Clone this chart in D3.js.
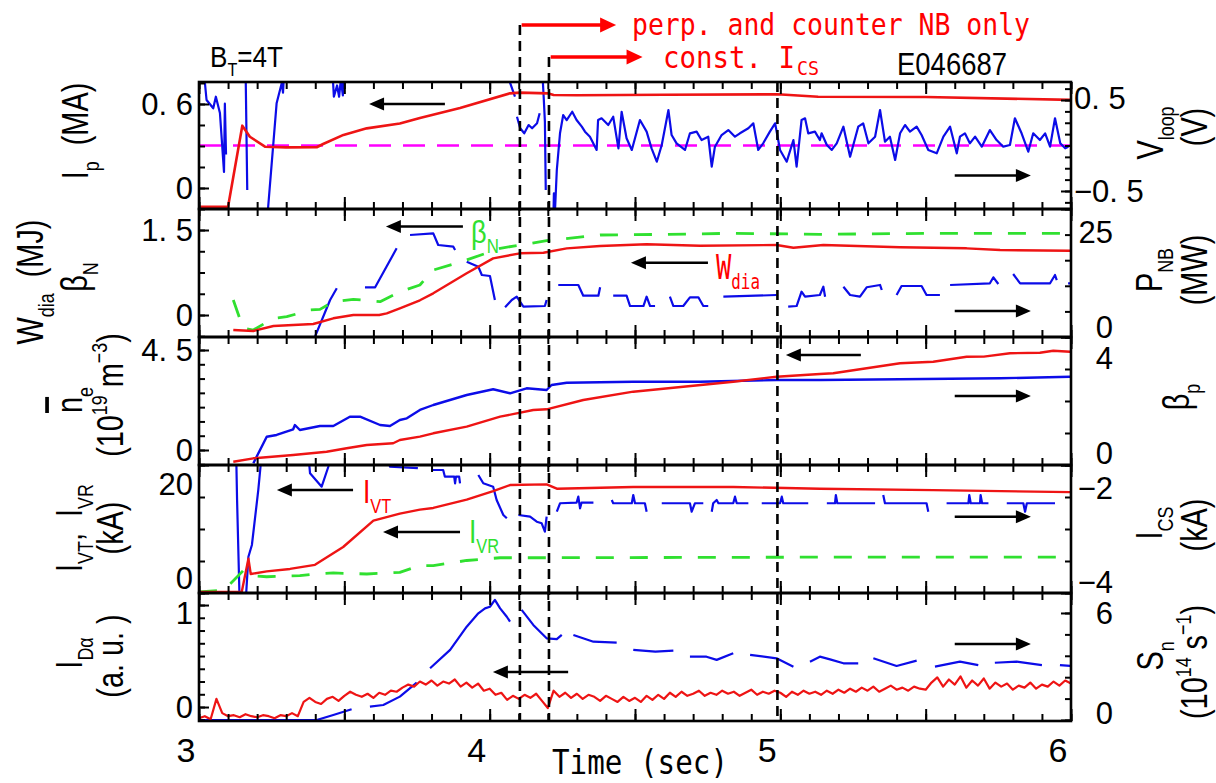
<!DOCTYPE html>
<html>
<head>
<meta charset="utf-8">
<script src="https://cdn.jsdelivr.net/npm/d3@7"></script>
<style>
  body { margin: 0; background: #fff; }
  svg text { font-family: "Liberation Sans", Arial, sans-serif; }
  .mono { font-family: "DejaVu Sans Mono", monospace !important; }
</style>
</head>
<body>
<div id="chart"></div>
<script>
// ---- data (time in s) ----
var ipMA = [[3.0,-0.134],[3.1,-0.134],[3.149,0.445],[3.175,0.366],[3.227,0.295],[3.3,0.29],[3.405,0.291],[3.427,0.314],
  [3.497,0.379],[3.577,0.426],[3.691,0.46],[3.76,0.5],[3.898,0.571],[4.07,0.676],[4.104,0.681],[4.2,0.676],[4.22,0.664],
  [4.3,0.662],[4.6,0.666],[4.99,0.669],[5.13,0.652],[5.5,0.65],[6.0,0.629]];
var vloopRef = [[3.0,0],[6.0,0]];
var vloopV = [[3.005,1.0],[3.017,0.8],[3.026,0.5],[3.049,0.409],[3.058,0.536],[3.072,0.357],[3.083,-0.15],[3.086,-0.29],[3.089,0.46],[3.093,-0.1],[3.095,null],
  [3.16,0.9],[3.166,-0.49],[3.168,null],
  [3.231,-1.0],[3.238,-0.673],[3.267,0.464],[3.285,0.69],[3.289,0.58],[3.296,1.0],[3.3,null],
  [3.456,1.0],[3.464,0.536],[3.475,0.66],[3.482,0.536],[3.488,0.72],[3.495,0.55],[3.502,1.0],[3.51,null],
  [4.06,1.0],[4.07,0.69],[4.087,0.536],[4.09,null],
  [4.094,0.316],[4.105,0.189],[4.119,0.134],[4.134,0.225],[4.146,0.189],[4.163,0.244],[4.172,0.354],[4.176,null],
  [4.178,1.0],[4.186,0.522],[4.19,0.262],[4.193,-0.489],[4.196,null],
  [4.218,-1.0],[4.221,-0.525],[4.225,-0.698],[4.231,-0.269],[4.242,0.134],[4.253,0.335],[4.265,0.28],[4.284,0.371],[4.299,0.28],
  [4.317,0.207],[4.328,0.152],[4.345,0.097],[4.368,-0.049],[4.373,0.28],[4.385,0.299],[4.408,0.225],[4.425,0.316],[4.443,-0.031],
  [4.454,0.371],[4.471,0.079],[4.489,-0.049],[4.517,0.28],[4.54,0.152],[4.557,-0.031],[4.575,-0.178],[4.592,0.005],[4.615,0.39],
  [4.626,0.115],[4.643,0.024],[4.672,-0.049],[4.689,0.134],[4.712,0.152],[4.729,0.06],[4.752,0.097],[4.764,-0.233],[4.775,-0.013],
  [4.798,0.115],[4.821,0.17],[4.844,0.097],[4.861,0.134],[4.89,0.189],[4.907,0.244],[4.924,-0.049],[4.941,0.024],[4.964,0.152],
  [4.982,0.244],[4.999,-0.049],[5.022,-0.178],[5.045,0.06],[5.056,-0.233],[5.073,0.28],[5.085,0.299],[5.096,0.134],[5.119,0.152],
  [5.136,0.06],[5.142,0.134],[5.16,0.005],[5.177,-0.049],[5.194,0.024],[5.217,0.207],[5.24,-0.123],[5.268,0.207],[5.285,0.244],
  [5.303,0.024],[5.326,0.097],[5.343,0.39],[5.36,0.042],[5.377,0.097],[5.395,-0.159],[5.412,0.134],[5.429,0.225],[5.446,0.152],
  [5.469,0.207],[5.486,0.115],[5.509,-0.049],[5.538,-0.086],[5.561,0.097],[5.584,0.207],[5.607,-0.086],[5.618,0.097],[5.635,0.134],
  [5.652,0.024],[5.67,0.097],[5.693,-0.013],[5.721,0.17],[5.744,0.06],[5.767,-0.013],[5.79,0.005],[5.807,0.299],[5.83,0.134],
  [5.853,-0.068],[5.87,0.134],[5.893,0.06],[5.911,0.134],[5.928,-0.013],[5.945,0.299],[5.963,0.024],[5.98,-0.031],[5.991,-0.013]];

var wdiaMJ = [[3.118,-0.265],[3.187,-0.282],[3.256,-0.194],[3.324,-0.176],[3.393,-0.159],[3.462,-0.058],[3.531,0],[3.62,0.0],
  [3.646,0.03],[3.691,0.118],[3.76,0.26],[3.806,0.383],[3.921,0.736],[4.012,1.0],[4.104,1.089],[4.185,1.099],[4.265,1.177],
  [4.38,1.218],[4.54,1.248],[4.724,1.223],[4.987,1.235],[5.045,1.188],[5.148,1.235],[5.412,1.195],[5.641,1.177],[5.756,1.147],[5.997,1.135]];
var betaN = [[3.118,0.265],[3.152,-0.235],[3.187,-0.265],[3.256,-0.058],[3.302,-0.03],[3.382,0.088],[3.416,0.1],[3.462,0.235],
  [3.531,0.277],[3.623,0.235],[3.691,0.41],[3.76,0.529],[3.806,0.794],[3.921,0.971],[4.036,1.177],[4.104,1.235],[4.196,1.311],
  [4.38,1.412],[4.609,1.424],[4.838,1.442],[5.136,1.424],[5.526,1.442],[6.0,1.442]];
var pnbMW = [[3.399,0.06],[3.451,7.23],[3.474,9.51],[3.48,null],
  [3.571,9.71],[3.606,9.71],[3.68,17.32],[3.69,null],
  [3.726,19.92],[3.806,20.25],[3.823,17.97],[3.875,17.64],[3.881,16.99],[3.885,null],
  [3.921,14.71],[3.961,13.73],[3.973,12.11],[4.001,11.91],[4.018,7.23],[4.022,null],
  [4.053,5.8],[4.076,7.23],[4.093,7.87],[4.116,5.92],[4.19,6.05],[4.196,7.23],[4.2,null],
  [4.236,10.16],[4.305,10.16],[4.322,8.07],[4.374,8.07],[4.38,9.71],[4.385,null],
  [4.425,8.07],[4.471,8.07],[4.483,6.05],[4.529,6.05],[4.54,7.87],[4.552,6.05],[4.569,6.05],[4.575,null],
  [4.62,7.87],[4.632,6.05],[4.666,6.05],[4.689,7.75],[4.718,7.75],[4.735,6.05],[4.752,6.05],[4.76,null],
  [4.804,7.87],[4.987,8.2],[4.995,null],
  [5.027,5.92],[5.056,6.05],[5.073,8.85],[5.085,7.87],[5.136,8.2],[5.148,9.82],[5.154,7.87],[5.16,null],
  [5.217,9.82],[5.24,8.2],[5.274,7.87],[5.297,9.71],[5.343,10.16],[5.349,9.18],[5.355,null],
  [5.4,8.2],[5.417,9.96],[5.486,9.96],[5.503,8.2],[5.549,8.2],[5.555,null],
  [5.584,10.16],[5.721,10.49],[5.733,11.66],[5.75,10.35],[5.755,null],
  [5.801,12.3],[5.825,10.49],[5.928,10.49],[5.945,12.11],[5.951,11.13],[5.96,null],
  [5.99,10.49],[6.0,10.49]];

var neBar = [[3.118,-0.527],[3.187,-0.374],[3.324,-0.225],[3.439,-0.077],[3.508,0.077],[3.577,0.225],[3.668,0.302],[3.691,0.45],
  [3.76,0.6],[3.806,0.752],[3.921,1.049],[4.036,1.499],[4.15,1.8],[4.196,1.832],[4.322,2.25],[4.494,2.624],[4.666,2.849],
  [4.838,3.074],[4.987,3.299],[5.136,3.42],[5.182,3.452],[5.297,3.677],[5.412,3.902],[5.526,3.974],[5.641,4.199],[5.7,4.2],
  [5.79,4.352],[5.893,4.379],[5.939,4.469],[5.997,4.424]];
var betaP = [[3.187,0.053],[3.233,0.884],[3.267,0.938],[3.324,1.116],[3.33,1.25],[3.347,1.094],[3.416,1.219],[3.462,1.219],
  [3.519,1.509],[3.554,1.509],[3.623,1.25],[3.657,1.219],[3.691,1.406],[3.715,1.459],[3.76,1.719],[3.806,1.875],[3.921,2.188],
  [4.012,2.366],[4.07,2.241],[4.127,2.397],[4.196,2.344],[4.213,2.5],[4.265,2.572],[4.494,2.603],[4.724,2.603],[4.987,2.656],
  [5.136,2.656],[5.412,2.678],[5.756,2.709],[5.997,2.759]];

var ivtKA = [[3.0,0.16],[3.147,0.16],[3.17,5.35],[3.178,2.97],[3.233,3.38],[3.313,3.76],[3.399,4.4],[3.496,7.19],[3.6,11.32],
  [3.691,12.4],[3.76,13.02],[3.806,13.29],[3.921,14.6],[4.012,15.92],[4.07,16.87],[4.196,16.98],[4.231,16.3],[4.494,16.56],
  [4.838,16.56],[5.136,16.3],[5.526,16.08],[5.997,15.76]];
var ivrKA = [[3.0,0.16],[3.084,0.43],[3.118,1.9],[3.152,3.49],[3.187,2.7],[3.233,2.54],[3.347,2.7],[3.399,2.97],[3.462,3.13],
  [3.577,2.97],[3.691,3.22],[3.76,4.29],[3.806,4.29],[3.921,5.08],[4.036,5.51],[4.196,5.51],[5.136,5.6],[6.0,5.6]];
var icsKA = [[3.127,-1.61],[3.131,-2.547],[3.139,-3.995],[3.144,-4.11],[3.146,null],
  [3.162,-4.03],[3.17,-3.433],[3.182,-3.25],[3.204,-2.39],[3.217,-1.766],[3.22,null],
  [3.375,-1.766],[3.382,-2.13],[3.422,-2.339],[3.445,-2.027],[3.451,-1.766],[3.455,null],
  [3.65,-1.77],[3.657,-2.027],[3.753,-2.05],[3.76,null],
  [3.8,-2.078],[3.84,-2.078],[3.846,-2.183],[3.878,-2.183],[3.881,-2.286],[3.884,-2.183],[3.895,-2.183],[3.898,-2.286],[3.9,null],
  [3.961,-2.156],[3.978,-2.286],[4.012,-2.339],[4.024,-2.547],[4.047,-2.781],[4.059,-2.833],[4.062,null],
  [4.099,-2.781],[4.139,-2.808],[4.162,-2.886],[4.179,-2.911],[4.19,-3.042],[4.196,-2.808],[4.2,null],
  [4.231,-2.73],[4.242,-2.598],[4.299,-2.589],[4.305,-2.495],[4.311,-2.677],[4.316,-2.589],[4.357,-2.589],[4.36,null],
  [4.42,-2.547],[4.425,-2.598],[4.489,-2.598],[4.494,-2.469],[4.5,-2.598],[4.534,-2.598],[4.54,-2.73],[4.545,null],
  [4.592,-2.598],[4.689,-2.598],[4.695,-2.73],[4.706,-2.598],[4.735,-2.598],[4.74,null],
  [4.764,-2.73],[4.769,-2.598],[4.781,-2.547],[4.787,-2.598],[4.838,-2.598],[4.844,-2.495],[4.85,-2.598],[4.89,-2.598],[4.895,null],
  [4.936,-2.598],[4.999,-2.598],[5.005,-2.495],[5.01,-2.598],[5.096,-2.598],[5.1,null],
  [5.16,-2.598],[5.188,-2.598],[5.191,-2.469],[5.196,-2.598],[5.326,-2.598],[5.33,null],
  [5.354,-2.469],[5.36,-2.598],[5.503,-2.598],[5.509,-2.73],[5.515,null],
  [5.572,-2.598],[5.647,-2.598],[5.65,-2.469],[5.655,-2.598],[5.687,-2.598],[5.689,-2.469],[5.694,-2.598],[5.716,-2.598],[5.72,null],
  [5.779,-2.598],[5.836,-2.598],[5.842,-2.73],[5.848,-2.598],[5.945,-2.598]];

// D-alpha, sampled every 20 ms from 3.00 s
var daStart = 3.0, daStep = 0.02;
var dAlpha = [
  -0.11,-0.09,-0.12,0.08,-0.06,-0.09,-0.08,-0.10,-0.07,-0.09,
  -0.10,-0.08,-0.09,-0.11,-0.08,-0.09,-0.06,-0.09,0.05,0.09,
  0.05,0.03,0.08,0.10,0.06,0.11,0.15,0.12,0.10,0.13,
  0.09,0.14,0.12,0.16,0.15,0.19,0.22,0.20,0.25,0.22,
  0.26,0.21,0.25,0.23,0.27,0.20,0.24,0.19,0.23,0.16,
  0.18,0.12,0.14,0.07,0.11,0.08,0.12,0.09,0.13,0.06,
  -0.01,0.16,0.10,0.14,0.09,0.13,0.08,0.12,0.10,0.06,
  0.11,0.08,0.05,0.10,0.06,0.09,0.05,0.11,0.07,0.12,
  0.08,0.14,0.10,0.15,0.11,0.13,0.16,0.11,0.14,0.12,
  0.16,0.13,0.15,0.11,0.14,0.17,0.12,0.15,0.13,0.16,
  0.14,0.10,0.15,0.12,0.16,0.13,0.15,0.12,0.16,0.13,
  0.17,0.14,0.18,0.15,0.19,0.16,0.20,0.15,0.18,0.21,
  0.17,0.19,0.16,0.20,0.18,0.17,0.24,0.29,0.20,0.27,
  0.22,0.30,0.19,0.26,0.21,0.28,0.18,0.24,0.20,0.23,
  0.17,0.21,0.19,0.24,0.18,0.22,0.20,0.25,0.21,0.26,
  0.23];
var snE14 = [[3.0,0],[3.405,0],[3.462,0.28],[3.525,0.6],[3.53,null],
  [3.588,0.75],[3.634,0.84],[3.691,1.31],[3.749,2.1],[3.755,null],
  [3.795,2.9],[3.864,3.93],[3.921,5.23],[3.961,5.98],[3.984,6.26],[4.001,6.35],[4.018,6.73],[4.036,6.26],[4.059,5.79],[4.07,5.51],[4.075,null],
  [4.11,6.17],[4.15,5.33],[4.196,4.58],[4.231,4.53],[4.248,4.77],[4.255,null],
  [4.288,4.77],[4.357,4.39],[4.437,4.34],[4.445,null],
  [4.494,3.93],[4.57,3.83],[4.632,3.89],[4.64,null],
  [4.689,3.55],[4.746,3.55],[4.781,3.37],[4.838,3.74],[4.845,null],
  [4.896,3.65],[4.987,3.46],[5.045,2.99],[5.05,null],
  [5.102,3.27],[5.136,3.55],[5.171,3.4],[5.217,3.18],[5.268,3.18],[5.275,null],
  [5.32,3.46],[5.4,3.03],[5.469,3.33],[5.475,null],
  [5.532,2.99],[5.618,3.27],[5.681,3.08],[5.69,null],
  [5.738,3.21],[5.813,3.27],[5.9,3.08],[5.91,null],
  [5.962,3.08],[5.997,3.03]];

// event times (dashed lines)
var eventT = [4.104, 4.204, 4.99];

// tick labels per axis: [value, text]
var ipTicks = [[0, "0"], [0.6, "0. 6"]];
var vloopTicks = [[0.5, "0. 5"], [-0.5, "\u22120. 5"]];
var wdiaTicks = [[0, "0"], [1.5, "1. 5"]];
var pnbTicks = [[0, "0"], [25, "25"]];
var neTicks = [[0, "0"], [4.5, "4. 5"]];
var betaPTicks = [[0, "0"], [4, "4"]];
var ivtTicks = [[0, "0"], [20, "20"]];
var icsTicks = [[-4, "\u22124"], [-2, "\u22122"]];
var daTicks = [[0, "0"], [1, "1"]];
var snTicks = [[0, "0"], [6, "6"]];
var timeTicks = [[3, "3"], [4, "4"], [5, "5"], [6, "6"]];

// ---- chart ----
var RED = "#ee1414", BLUE = "#0c0ce8", GREEN = "#30e030", MAG = "#ff00ff";
var W = 1216, H = 783;
var svg = d3.select("#chart").append("svg").attr("width", W).attr("height", H).style("display", "block");
svg.append("rect").attr("width", W).attr("height", H).attr("fill", "#fff");

var X0 = 199, X1 = 1071;
var x = d3.scaleLinear().domain([3, 6]).range([X0, X1]);

var panels = [
  {top: 82,  bottom: 209, yl: [-0.15, 0.757],  yr: [-0.698, 0.698], lStep: 0.15,   rStep: 0.125},
  {top: 209, bottom: 337, yl: [-0.388, 1.871], yr: [0, 25],          lStep: 0.375,  rStep: 5},
  {top: 337, bottom: 465, yl: [-0.675, 5.085], yr: [0, 4],           lStep: 4.5/7,  rStep: 1},
  {top: 465, bottom: 593, yl: [0, 20],         yr: [-4, -2],         lStep: 5,      rStep: 0.5},
  {top: 593, bottom: 721, yl: [-0.137, 1.118], yr: [-0.056, 7.12],   lStep: 0.125,  rStep: 1.2}
];
panels.forEach(function(p, i) {
  p.L = d3.scaleLinear().domain(p.yl).range([p.bottom, p.top]);
  p.R = d3.scaleLinear().domain(p.yr).range([p.bottom, p.top]);
  svg.append("clipPath").attr("id", "clip" + i).append("rect")
    .attr("x", X0).attr("y", p.top).attr("width", X1 - X0).attr("height", p.bottom - p.top);
});

// tick label layout, with nudges for the low / high label
var axisLabels = [
  {p: 0, side: "L", ticks: ipTicks,    nLo: 0,   nHi: 0},
  {p: 0, side: "R", ticks: vloopTicks, nLo: 0,   nHi: -2, start: true},
  {p: 1, side: "L", ticks: wdiaTicks,  nLo: 0,   nHi: 0},
  {p: 1, side: "R", ticks: pnbTicks,   nLo: -10, nHi: 23},
  {p: 2, side: "L", ticks: neTicks,    nLo: 0,   nHi: 0},
  {p: 2, side: "R", ticks: betaPTicks, nLo: -12, nHi: 21},
  {p: 3, side: "L", ticks: ivtTicks,   nLo: -15, nHi: 19},
  {p: 3, side: "R", ticks: icsTicks,   nLo: -11, nHi: 23},
  {p: 4, side: "L", ticks: daTicks,    nLo: 0,   nHi: 8},
  {p: 4, side: "R", ticks: snTicks,    nLo: -7,  nHi: 0}
];

function stepTicks(dom, step) {
  var lo = Math.min(dom[0], dom[1]), hi = Math.max(dom[0], dom[1]);
  var out = [], k0 = Math.ceil(lo / step - 1e-6), k1 = Math.floor(hi / step + 1e-6);
  for (var k = k0; k <= k1; k++) out.push(k * step);
  return out;
}

var line = function(sc) {
  return d3.line().defined(function(d) { return d[1] != null; })
    .x(function(d) { return x(d[0]); }).y(function(d) { return sc(d[1]); });
};
var daPairs = dAlpha.map(function(v, i) { return [daStart + i * daStep, v]; });

var series = [
  {p: 0, ax: "R", data: vloopRef, color: MAG, w: 2.4, dash: "22,12"},
  {p: 0, ax: "R", data: vloopV, color: BLUE, w: 2.2},
  {p: 0, ax: "L", data: ipMA, color: RED, w: 2.6},
  {p: 1, ax: "R", data: pnbMW, color: BLUE, w: 2.2},
  {p: 1, ax: "L", data: betaN, color: GREEN, w: 2.8, dash: "18,16"},
  {p: 1, ax: "L", data: wdiaMJ, color: RED, w: 2.4},
  {p: 2, ax: "R", data: betaP, color: BLUE, w: 2.4},
  {p: 2, ax: "L", data: neBar, color: RED, w: 2.4},
  {p: 3, ax: "R", data: icsKA, color: BLUE, w: 2.2},
  {p: 3, ax: "L", data: ivrKA, color: GREEN, w: 2.8, dash: "18,16"},
  {p: 3, ax: "L", data: ivtKA, color: RED, w: 2.4},
  {p: 4, ax: "R", data: snE14, color: BLUE, w: 2.2},
  {p: 4, ax: "L", data: daPairs, color: RED, w: 2.2}
];
series.forEach(function(s) {
  var p = panels[s.p];
  svg.append("path").datum(s.data)
    .attr("clip-path", "url(#clip" + s.p + ")")
    .attr("d", line(s.ax === "L" ? p.L : p.R))
    .attr("fill", "none").attr("stroke", s.color).attr("stroke-width", s.w)
    .attr("stroke-dasharray", s.dash || null).attr("stroke-linejoin", "round");
});

// frames and ticks
var minorT = d3.range(31).map(function(i) { return 3 + i / 10; });
var majorT = d3.range(7).map(function(i) { return 3 + i / 2; });
function clean(g) {
  g.select(".domain").remove();
  g.selectAll("line").attr("stroke", "#000").attr("stroke-width", 2);
}
panels.forEach(function(p) {
  [[minorT, 7], [majorT, 12]].forEach(function(a) {
    svg.append("g").attr("transform", "translate(0," + p.top + ")")
      .call(d3.axisTop(x).tickValues(a[0]).tickSize(-a[1]).tickFormat("")).call(clean);
    svg.append("g").attr("transform", "translate(0," + p.bottom + ")")
      .call(d3.axisBottom(x).tickValues(a[0]).tickSize(-a[1]).tickFormat("")).call(clean);
  });
  svg.append("g").attr("transform", "translate(" + X0 + ",0)")
    .call(d3.axisLeft(p.L).tickValues(stepTicks(p.yl, p.lStep)).tickSize(-6).tickFormat("")).call(clean);
  svg.append("g").attr("transform", "translate(" + X1 + ",0)")
    .call(d3.axisRight(p.R).tickValues(stepTicks(p.yr, p.rStep)).tickSize(-6).tickFormat("")).call(clean);
  svg.append("rect").attr("x", X0).attr("y", p.top).attr("width", X1 - X0).attr("height", p.bottom - p.top)
    .attr("fill", "none").attr("stroke", "#000").attr("stroke-width", 2.6);
});

axisLabels.forEach(function(a) {
  var p = panels[a.p], sc = a.side === "L" ? p.L : p.R;
  var vals = a.ticks.map(function(t) { return t[0]; });
  var lo = d3.min(vals);
  var ax = a.side === "L" ? d3.axisLeft(sc) : d3.axisRight(sc);
  svg.append("g").attr("transform", "translate(" + (a.side === "L" ? X0 : X1) + ",0)")
    .call(ax.tickValues(vals).tickSize(-10).tickFormat("")).call(clean);
  a.ticks.forEach(function(t) {
    var y = sc(t[0]) + (t[0] === lo ? a.nLo : a.nHi);
    var tx = svg.append("text").attr("font-size", 31).attr("dy", "0.36em").attr("y", y).text(t[1]);
    if (a.side === "L") tx.attr("x", 193).attr("text-anchor", "end");
    else if (a.start) tx.attr("x", 1074).attr("text-anchor", "start");
    else tx.attr("x", 1113).attr("text-anchor", "end");
  });
});

timeTicks.forEach(function(t) {
  svg.append("text").attr("x", x(t[0]) - 13).attr("y", 762).attr("text-anchor", "middle")
    .attr("font-size", 34).text(t[1]);
});

// event lines and NB arrows
var eventTop = [25, 57, 82];
eventT.forEach(function(t, i) {
  svg.append("line").attr("x1", x(t)).attr("x2", x(t)).attr("y1", eventTop[i]).attr("y2", 721)
    .attr("stroke", "#000").attr("stroke-width", 2.6).attr("stroke-dasharray", "10,6");
});

function arrow(x1, x2, y, color, hl, hh, w) {
  var dir = x2 > x1 ? 1 : -1;
  svg.append("line").attr("x1", x1).attr("x2", x2 - dir * hl * 0.8).attr("y1", y).attr("y2", y)
    .attr("stroke", color).attr("stroke-width", w);
  svg.append("path").attr("d", "M" + x2 + "," + y + "L" + (x2 - dir * hl) + "," + (y - hh) +
    "L" + (x2 - dir * hl) + "," + (y + hh) + "Z").attr("fill", color);
}
arrow(x(4.11), x(4.435), 25, "#ff0000", 16, 7.5, 3.5);
arrow(x(4.21), x(4.526), 57, "#ff0000", 16, 7.5, 3.5);

var dirArrows = [
  {p: 0, ax: "L", t0: 3.846, t1: 3.585, v: 0.6},
  {p: 0, ax: "R", t0: 5.60, t1: 5.862, v: -0.33},
  {p: 1, ax: "L", t0: 3.908, t1: 3.643, v: 1.562},
  {p: 1, ax: "L", t0: 4.751, t1: 4.486, v: 0.923},
  {p: 1, ax: "R", t0: 5.60, t1: 5.862, v: 5.08},
  {p: 2, ax: "L", t0: 5.277, t1: 5.019, v: 4.275},
  {p: 2, ax: "R", t0: 5.60, t1: 5.862, v: 2.156},
  {p: 3, ax: "L", t0: 3.53, t1: 3.268, v: 16.1},
  {p: 3, ax: "L", t0: 3.898, t1: 3.633, v: 9.53},
  {p: 3, ax: "R", t0: 5.60, t1: 5.862, v: -2.808},
  {p: 4, ax: "L", t0: 4.27, t1: 4.011, v: 0.343},
  {p: 4, ax: "R", t0: 5.60, t1: 5.862, v: 4.26}
];
dirArrows.forEach(function(a) {
  var p = panels[a.p], sc = a.ax === "L" ? p.L : p.R;
  arrow(x(a.t0), x(a.t1), sc(a.v), "#000", 15, 6.5, 2.5);
});

// rich text helper: parts = [[text, kind]], kind "", "sub", "sup", "over"
function rich(x0, y0, parts, size, opt) {
  opt = opt || {};
  var t = svg.append("text")
    .attr("transform", "translate(" + x0 + "," + y0 + ")" + (opt.rot ? " rotate(-90)" : "") + " scale(" + (opt.sx || 1) + ",1)")
    .attr("text-anchor", opt.anchor || (opt.rot ? "middle" : "start"))
    .attr("font-size", size).attr("fill", opt.color || "#000");
  if (opt.mono) t.attr("class", "mono");
  var shift = 0;
  parts.forEach(function(pt) {
    var kind = pt[1] || "";
    var small = kind === "sub" || kind === "sup";
    var target = kind === "sub" ? size * 0.3 : kind === "sup" ? -size * 0.42 : 0;
    var ts = t.append("tspan").attr("font-size", small ? size * 0.62 : size).attr("dy", target - shift).text(pt[0]);
    if (kind === "over") ts.style("text-decoration", "overline");
    shift = target;
  });
  return t;
}

var NB = "\u00a0";
// left axis titles
var LS = 37, SX = 0.78;
rich(88, 131, [["I"], ["p", "sub"], [NB + NB + "(MA)"]], LS, {rot: true, sx: SX});
rich(43, 282, [["W"], ["dia", "sub"], [NB + NB + "(MJ)"]], LS, {rot: true, sx: SX});
rich(87, 277, [["\u03b2"], ["N", "sub"]], LS, {rot: true, sx: SX});
rich(82, 400, [["n", "over"], ["e", "sub"]], LS, {rot: true, sx: SX});
rich(123, 395, [["(10"], ["19", "sup"], [NB + "m"], ["\u22123", "sup"], [")"]], LS, {rot: true, sx: SX});
rich(82, 528, [["I"], ["VT", "sub"], ["," + NB + NB + "I"], ["VR", "sub"]], LS, {rot: true, sx: SX});
rich(123, 528, [["(kA)"]], LS, {rot: true, sx: SX});
rich(82, 653, [["I"], ["D\u03b1", "sub"]], LS, {rot: true, sx: SX});
rich(123, 656, [["(a." + NB + "u." + NB + ")"]], LS, {rot: true, sx: SX});
// right axis titles
rich(1163, 133, [["V"], ["loop", "sub"]], LS, {rot: true, sx: SX});
rich(1207, 127, [["(V)"]], LS, {rot: true, sx: SX});
rich(1162, 270, [["P"], ["NB", "sub"]], LS, {rot: true, sx: SX});
rich(1207, 270, [["(MW)"]], LS, {rot: true, sx: SX});
rich(1189, 397, [["\u03b2"], ["p", "sub"]], LS, {rot: true, sx: SX});
rich(1162, 523, [["I"], ["CS", "sub"]], LS, {rot: true, sx: SX});
rich(1207, 525, [["(kA)"]], LS, {rot: true, sx: SX});
rich(1163, 656, [["S"], ["n", "sub"]], LS, {rot: true, sx: SX});
rich(1207, 662, [["(10"], ["14", "sup"], [NB + "s"], ["\u22121", "sup"], [")"]], LS, {rot: true, sx: SX});

// header texts
rich(210, 67, [["B"], ["T", "sub"], ["=4T"]], 29, {sx: 0.9});
svg.append("text").attr("x", 897).attr("y", 75).attr("font-size", 31).attr("textLength", 110)
  .attr("lengthAdjust", "spacingAndGlyphs").text("E046687");
svg.append("text").attr("class", "mono").attr("x", 632).attr("y", 35).attr("font-size", 30).attr("fill", "#ff0000")
  .attr("textLength", 398).attr("lengthAdjust", "spacingAndGlyphs").text("perp. and counter NB only");
svg.append("text").attr("class", "mono").attr("x", 663).attr("y", 68).attr("font-size", 30).attr("fill", "#ff0000")
  .attr("textLength", 132).attr("lengthAdjust", "spacingAndGlyphs").text("const. I");
svg.append("text").attr("class", "mono").attr("x", 797).attr("y", 75).attr("font-size", 19).attr("fill", "#ff0000")
  .attr("textLength", 22).attr("lengthAdjust", "spacingAndGlyphs").text("CS");
svg.append("text").attr("class", "mono").attr("x", 552).attr("y", 774).attr("font-size", 33)
  .attr("textLength", 176).attr("lengthAdjust", "spacingAndGlyphs").text("Time (sec)");

// curve labels
rich(471, 243, [["\u03b2"], ["N", "sub"]], 32, {color: GREEN, sx: 0.85});
rich(716, 279, [["W"], ["dia", "sub"]], 34, {color: "#ff0000", sx: 0.75, mono: true});
rich(363, 503, [["I"], ["VT", "sub"]], 33, {color: "#ff0000", sx: 0.8});
rich(469, 543, [["I"], ["VR", "sub"]], 33, {color: GREEN, sx: 0.8});
</script>
</body>
</html>
